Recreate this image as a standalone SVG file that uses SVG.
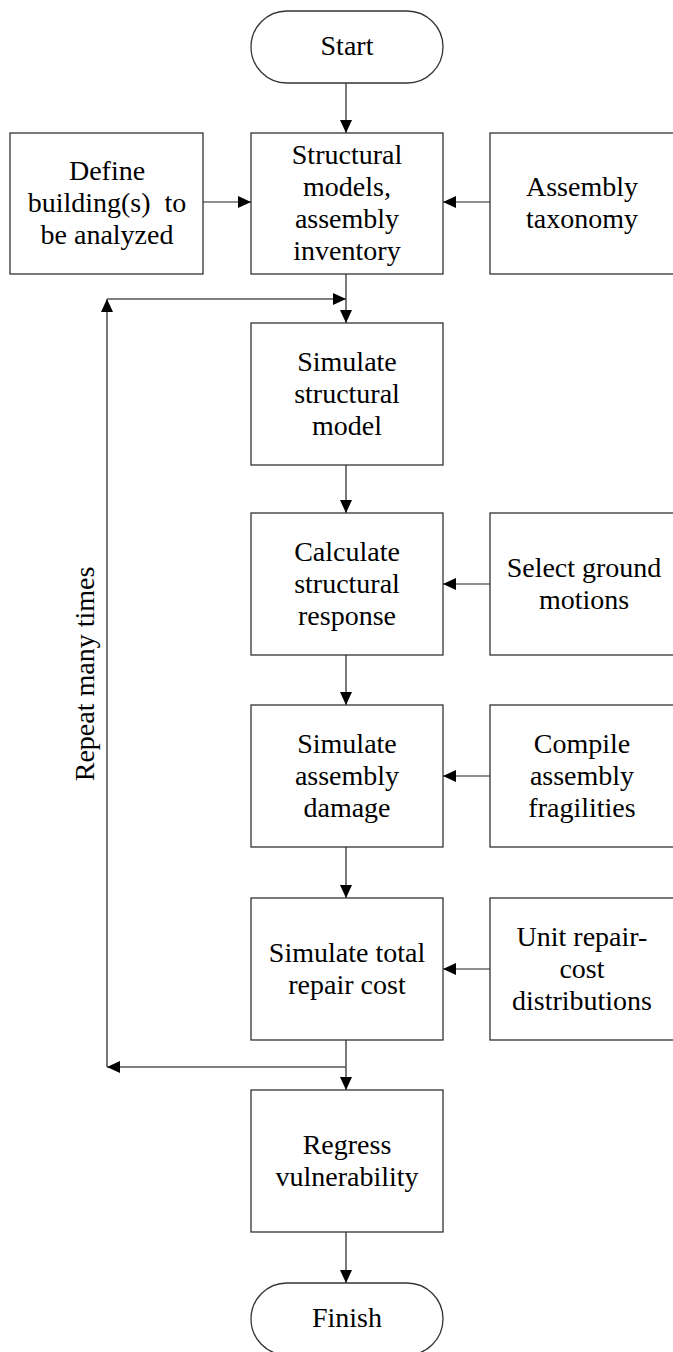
<svg xmlns="http://www.w3.org/2000/svg" width="673" height="1352" viewBox="0 0 673 1352">
<style>
.box{fill:#fff;stroke:#333;stroke-width:1.3}
.t{font-family:"Liberation Serif","Times New Roman",serif;font-size:28px;fill:#000;text-anchor:middle}
.pre{white-space:pre}
.c{fill:none;stroke:#222;stroke-width:1.2}
.loop{fill:none;stroke:#555;stroke-width:1.6}
</style>
<defs>
<marker id="ah" markerUnits="userSpaceOnUse" markerWidth="14" markerHeight="12" refX="13" refY="6" orient="auto">
<path d="M0,0 L13,6 L0,12 z" fill="#000"/>
</marker>
</defs>
<rect width="673" height="1352" fill="#fff"/>
<g id="connectors">
<line class="c" x1="346" y1="83" x2="346" y2="133" marker-end="url(#ah)"/>
<line class="c" x1="203" y1="202" x2="251" y2="202" marker-end="url(#ah)"/>
<line class="c" x1="490" y1="202" x2="443" y2="202" marker-end="url(#ah)"/>
<line class="c" x1="346" y1="274" x2="346" y2="323" marker-end="url(#ah)"/>
<line class="loop" x1="107" y1="1067" x2="107" y2="299" marker-end="url(#ah)"/>
<line class="loop" x1="107" y1="299" x2="346" y2="299" marker-end="url(#ah)"/>
<line class="c" x1="346" y1="465" x2="346" y2="513" marker-end="url(#ah)"/>
<line class="c" x1="490" y1="584" x2="443" y2="584" marker-end="url(#ah)"/>
<line class="c" x1="346" y1="655" x2="346" y2="705" marker-end="url(#ah)"/>
<line class="c" x1="490" y1="776" x2="443" y2="776" marker-end="url(#ah)"/>
<line class="c" x1="346" y1="847" x2="346" y2="898" marker-end="url(#ah)"/>
<line class="c" x1="490" y1="969" x2="443" y2="969" marker-end="url(#ah)"/>
<line class="c" x1="346" y1="1040" x2="346" y2="1090" marker-end="url(#ah)"/>
<line class="loop" x1="346" y1="1067" x2="107" y2="1067" marker-end="url(#ah)"/>
<line class="c" x1="346" y1="1232" x2="346" y2="1283" marker-end="url(#ah)"/>
</g>
<g id="start">
<rect class="box" x="251" y="11" width="192" height="72" rx="36" ry="36"/>
<text class="t" x="347" y="55">Start</text>
</g>
<g id="define">
<rect class="box" x="10" y="133" width="193" height="141"/>
<text class="t" x="107" y="180">Define</text>
<text class="t pre" x="107" y="212" xml:space="preserve">building(s)  to</text>
<text class="t" x="107" y="244">be analyzed</text>
</g>
<g id="structural">
<rect class="box" x="251" y="133" width="192" height="141"/>
<text class="t" x="347" y="164">Structural</text>
<text class="t" x="347" y="196">models,</text>
<text class="t" x="347" y="228">assembly</text>
<text class="t" x="347" y="260">inventory</text>
</g>
<g id="taxonomy">
<rect class="box" x="490" y="133" width="186" height="141"/>
<text class="t" x="582" y="196">Assembly</text>
<text class="t" x="582" y="228">taxonomy</text>
</g>
<g id="simmodel">
<rect class="box" x="251" y="323" width="192" height="142"/>
<text class="t" x="347" y="371">Simulate</text>
<text class="t" x="347" y="403">structural</text>
<text class="t" x="347" y="435">model</text>
</g>
<g id="calc">
<rect class="box" x="251" y="513" width="192" height="142"/>
<text class="t" x="347" y="561">Calculate</text>
<text class="t" x="347" y="593">structural</text>
<text class="t" x="347" y="625">response</text>
</g>
<g id="ground">
<rect class="box" x="490" y="513" width="186" height="142"/>
<text class="t" x="584" y="577">Select ground</text>
<text class="t" x="584" y="609">motions</text>
</g>
<g id="damage">
<rect class="box" x="251" y="705" width="192" height="142"/>
<text class="t" x="347" y="753">Simulate</text>
<text class="t" x="347" y="785">assembly</text>
<text class="t" x="347" y="817">damage</text>
</g>
<g id="fragilities">
<rect class="box" x="490" y="705" width="186" height="142"/>
<text class="t" x="582" y="753">Compile</text>
<text class="t" x="582" y="785">assembly</text>
<text class="t" x="582" y="817">fragilities</text>
</g>
<g id="repair">
<rect class="box" x="251" y="898" width="192" height="142"/>
<text class="t" x="347" y="962">Simulate total</text>
<text class="t" x="347" y="994">repair cost</text>
</g>
<g id="unitcost">
<rect class="box" x="490" y="898" width="186" height="142"/>
<text class="t" x="582" y="946">Unit repair-</text>
<text class="t" x="582" y="978">cost</text>
<text class="t" x="582" y="1010">distributions</text>
</g>
<g id="regress">
<rect class="box" x="251" y="1090" width="192" height="142"/>
<text class="t" x="347" y="1154">Regress</text>
<text class="t" x="347" y="1186">vulnerability</text>
</g>
<g id="finish">
<rect class="box" x="251" y="1283" width="192" height="72" rx="36" ry="36"/>
<text class="t" x="347" y="1327">Finish</text>
</g>
<g id="repeat-label">
<text class="t" transform="translate(94,674) rotate(-90)">Repeat many times</text>
</g>
</svg>
